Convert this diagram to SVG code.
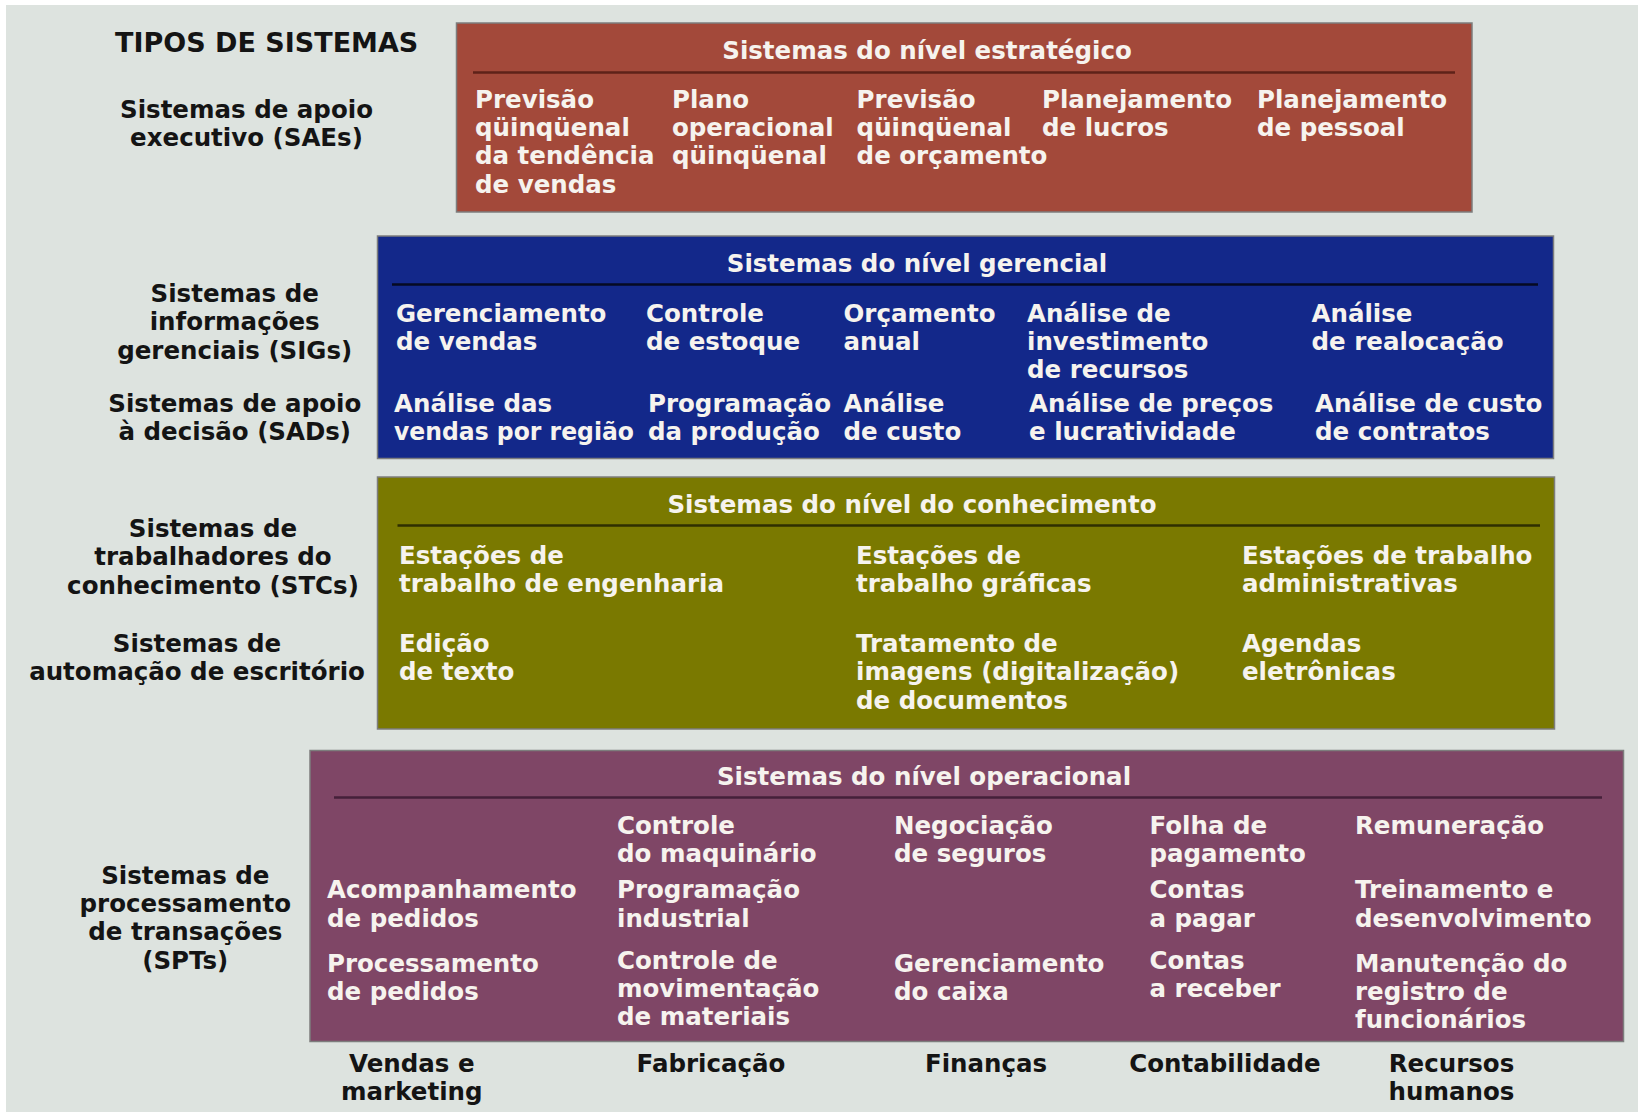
<svg xmlns="http://www.w3.org/2000/svg" width="1638" height="1112" viewBox="0 0 1638 1112">
<style>
  text { font-family: "DejaVu Sans", "Liberation Sans", sans-serif; font-weight: bold; font-size: 24.5px; }
  .w { fill: #f6f3ee; }
  .k { fill: #141414; text-anchor: middle; }
  .t { text-anchor: middle; }
  .box { stroke: #7d7d7d; stroke-width: 1.5; }
  .div { stroke-width: 2.5; fill: none; }
</style>
<rect x="0" y="0" width="1638" height="1112" fill="#ffffff"/>
<rect x="6" y="5" width="1632" height="1107" fill="#dde3df"/>

<g id="left-labels">
  <text x="115" y="51.5" fill="#141414" style="font-size:27px">TIPOS DE SISTEMAS</text>
  <text class="k"><tspan x="246.5" y="118">Sistemas de apoio</tspan><tspan x="246.5" y="146.4">executivo (SAEs)</tspan></text>
  <text class="k"><tspan x="234.7" y="301.9">Sistemas de</tspan><tspan x="234.7" y="330.2">informações</tspan><tspan x="234.7" y="358.5">gerenciais (SIGs)</tspan></text>
  <text class="k"><tspan x="234.8" y="411.6">Sistemas de apoio</tspan><tspan x="234.8" y="440">à decisão (SADs)</tspan></text>
  <text class="k"><tspan x="213" y="537">Sistemas de</tspan><tspan x="213" y="565.3">trabalhadores do</tspan><tspan x="213" y="593.6">conhecimento (STCs)</tspan></text>
  <text class="k"><tspan x="197" y="651.8">Sistemas de</tspan><tspan x="197" y="680.2">automação de escritório</tspan></text>
  <text class="k"><tspan x="185.3" y="883.7">Sistemas de</tspan><tspan x="185.3" y="912">processamento</tspan><tspan x="185.3" y="940.3">de transações</tspan><tspan x="185.3" y="968.6">(SPTs)</tspan></text>
</g>

<g id="nivel-estrategico">
  <rect class="box" x="456.5" y="23" width="1015.5" height="189" fill="#a3493a"/>
  <line class="div" x1="473" y1="72.5" x2="1455" y2="72.5" stroke="#5e2219"/>
  <text class="w t" x="927" y="59">Sistemas do nível estratégico</text>
  <text class="w"><tspan x="475" y="107.6">Previsão</tspan><tspan x="475" y="136">qüinqüenal</tspan><tspan x="475" y="164.4">da tendência</tspan><tspan x="475" y="192.8">de vendas</tspan></text>
  <text class="w"><tspan x="672" y="107.6">Plano</tspan><tspan x="672" y="136">operacional</tspan><tspan x="672" y="164.4">qüinqüenal</tspan></text>
  <text class="w"><tspan x="856.6" y="107.6">Previsão</tspan><tspan x="856.6" y="136">qüinqüenal</tspan><tspan x="856.6" y="164.4">de orçamento</tspan></text>
  <text class="w"><tspan x="1042" y="107.6">Planejamento</tspan><tspan x="1042" y="136">de lucros</tspan></text>
  <text class="w"><tspan x="1257" y="107.6">Planejamento</tspan><tspan x="1257" y="136">de pessoal</tspan></text>
</g>

<g id="nivel-gerencial">
  <rect class="box" x="377.5" y="236" width="1176" height="222.5" fill="#13288a"/>
  <line class="div" x1="392" y1="284.5" x2="1538" y2="284.5" stroke="#060a22"/>
  <text class="w t" x="917" y="271.6">Sistemas do nível gerencial</text>
  <text class="w"><tspan x="396" y="321.7">Gerenciamento</tspan><tspan x="396" y="350">de vendas</tspan></text>
  <text class="w"><tspan x="646" y="321.7">Controle</tspan><tspan x="646" y="350">de estoque</tspan></text>
  <text class="w"><tspan x="843.5" y="321.7">Orçamento</tspan><tspan x="843.5" y="350">anual</tspan></text>
  <text class="w"><tspan x="1027" y="321.7">Análise de</tspan><tspan x="1027" y="350">investimento</tspan><tspan x="1027" y="378.4">de recursos</tspan></text>
  <text class="w"><tspan x="1311.5" y="321.7">Análise</tspan><tspan x="1311.5" y="350">de realocação</tspan></text>
  <text class="w"><tspan x="394" y="411.6">Análise das</tspan><tspan x="394" y="440" textLength="240" lengthAdjust="spacingAndGlyphs">vendas por região</tspan></text>
  <text class="w"><tspan x="648" y="411.6">Programação</tspan><tspan x="648" y="440">da produção</tspan></text>
  <text class="w"><tspan x="843.5" y="411.6">Análise</tspan><tspan x="843.5" y="440">de custo</tspan></text>
  <text class="w"><tspan x="1029" y="411.6">Análise de preços</tspan><tspan x="1029" y="440">e lucratividade</tspan></text>
  <text class="w"><tspan x="1315" y="411.6">Análise de custo</tspan><tspan x="1315" y="440">de contratos</tspan></text>
</g>

<g id="nivel-conhecimento">
  <rect class="box" x="377.5" y="477" width="1177" height="252" fill="#7a7900"/>
  <line class="div" x1="397.5" y1="525.5" x2="1540" y2="525.5" stroke="#2f2f00"/>
  <text class="w t" x="912" y="513">Sistemas do nível do conhecimento</text>
  <text class="w"><tspan x="399" y="564">Estações de</tspan><tspan x="399" y="592.4">trabalho de engenharia</tspan></text>
  <text class="w"><tspan x="856" y="564">Estações de</tspan><tspan x="856" y="592.4">trabalho gráficas</tspan></text>
  <text class="w"><tspan x="1242" y="564">Estações de trabalho</tspan><tspan x="1242" y="592.4">administrativas</tspan></text>
  <text class="w"><tspan x="399" y="651.8">Edição</tspan><tspan x="399" y="680.2">de texto</tspan></text>
  <text class="w"><tspan x="856" y="651.8">Tratamento de</tspan><tspan x="856" y="680.2">imagens (digitalização)</tspan><tspan x="856" y="708.6">de documentos</tspan></text>
  <text class="w"><tspan x="1242" y="651.8">Agendas</tspan><tspan x="1242" y="680.2">eletrônicas</tspan></text>
</g>

<g id="nivel-operacional">
  <rect class="box" x="310" y="750.5" width="1313.5" height="291" fill="#7f4666"/>
  <line class="div" x1="334" y1="797.5" x2="1602" y2="797.5" stroke="#45203a"/>
  <text class="w t" x="924" y="784.5">Sistemas do nível operacional</text>
  <text class="w"><tspan x="327" y="898.4">Acompanhamento</tspan><tspan x="327" y="926.8">de pedidos</tspan></text>
  <text class="w"><tspan x="327" y="971.5">Processamento</tspan><tspan x="327" y="999.9">de pedidos</tspan></text>
  <text class="w"><tspan x="617" y="833.5">Controle</tspan><tspan x="617" y="861.9">do maquinário</tspan></text>
  <text class="w"><tspan x="617" y="898.4">Programação</tspan><tspan x="617" y="926.8">industrial</tspan></text>
  <text class="w"><tspan x="617" y="968.5">Controle de</tspan><tspan x="617" y="996.9">movimentação</tspan><tspan x="617" y="1025.3">de materiais</tspan></text>
  <text class="w"><tspan x="894" y="833.5">Negociação</tspan><tspan x="894" y="861.9">de seguros</tspan></text>
  <text class="w"><tspan x="894" y="971.5">Gerenciamento</tspan><tspan x="894" y="999.9">do caixa</tspan></text>
  <text class="w"><tspan x="1149.5" y="833.5">Folha de</tspan><tspan x="1149.5" y="861.9">pagamento</tspan></text>
  <text class="w"><tspan x="1149.5" y="898.4">Contas</tspan><tspan x="1149.5" y="926.8">a pagar</tspan></text>
  <text class="w"><tspan x="1149.5" y="968.5">Contas</tspan><tspan x="1149.5" y="996.9">a receber</tspan></text>
  <text class="w"><tspan x="1355" y="833.5">Remuneração</tspan></text>
  <text class="w"><tspan x="1355" y="898.4">Treinamento e</tspan><tspan x="1355" y="926.8">desenvolvimento</tspan></text>
  <text class="w"><tspan x="1355" y="971.5">Manutenção do</tspan><tspan x="1355" y="999.9">registro de</tspan><tspan x="1355" y="1028.3">funcionários</tspan></text>
</g>

<g id="areas-funcionais">
  <text class="k"><tspan x="411.8" y="1071.8">Vendas e</tspan><tspan x="411.8" y="1100.2">marketing</tspan></text>
  <text class="k" x="711" y="1071.8">Fabricação</text>
  <text class="k" x="986" y="1071.8">Finanças</text>
  <text class="k" x="1225" y="1071.8">Contabilidade</text>
  <text class="k"><tspan x="1451.5" y="1071.8">Recursos</tspan><tspan x="1451.5" y="1100.2">humanos</tspan></text>
</g>
</svg>
